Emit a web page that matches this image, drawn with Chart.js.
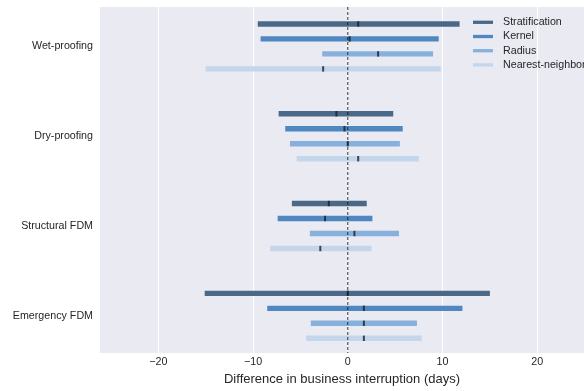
<!DOCTYPE html>
<html><head><meta charset="utf-8">
<script src="https://cdn.jsdelivr.net/npm/chart.js@4.4.0/dist/chart.umd.min.js"></script>
<style>html,body{margin:0;padding:0;background:#fff}</style>
</head><body>
<canvas id="c" width="584" height="391"></canvas>
<script>
const categories = ['Wet-proofing', 'Dry-proofing', 'Structural FDM', 'Emergency FDM'];
const seriesNames = ['Stratification', 'Kernel', 'Radius', 'Nearest-neighbor'];
const seriesColors = ['#4a6988', '#4f87c0', '#88b0dc', '#c4d6ec'];

const stratLow  = [-9.5, -7.3, -5.9, -15.1];
const stratHigh = [11.8, 4.8, 2.0, 15.0];
const stratMid  = [1.1, -1.2, -2.0, 0.0];

const kernelLow  = [-9.2, -6.6, -7.4, -8.5];
const kernelHigh = [9.6, 5.8, 2.6, 12.1];
const kernelMid  = [0.2, -0.35, -2.4, 1.7];

const radiusLow  = [-2.7, -6.1, -4.0, -3.9];
const radiusHigh = [9.0, 5.5, 5.4, 7.3];
const radiusMid  = [3.2, 0.0, 0.7, 1.7];

const nnLow  = [-15.0, -5.4, -8.2, -4.4];
const nnHigh = [9.8, 7.5, 2.5, 7.8];
const nnMid  = [-2.6, 1.1, -2.9, 1.7];

const xTicks = [-20, -10, 0, 10, 20];

const lows = [stratLow, kernelLow, radiusLow, nnLow];
const highs = [stratHigh, kernelHigh, radiusHigh, nnHigh];
const mids = [stratMid, kernelMid, radiusMid, nnMid];

const FONT = '"Liberation Sans", Arial, sans-serif';
const TXT = '#262626';

const datasets = seriesNames.map((name, s) => ({
  label: name,
  data: categories.map((c, i) => ({ y: i, x: [lows[s][i], highs[s][i]] })),
  medians: mids[s],
  backgroundColor: seriesColors[s],
  borderWidth: 0,
  borderSkipped: false,
  categoryPercentage: 0.668,
  barPercentage: 0.36
}));

const bgPlugin = {
  id: 'bg',
  beforeDraw(chart) {
    const { ctx, chartArea: a } = chart;
    ctx.save();
    ctx.fillStyle = '#eaeaf2';
    ctx.fillRect(a.left, a.top, a.right - a.left, a.bottom - a.top);
    ctx.restore();
  }
};

const markPlugin = {
  id: 'marks',
  afterDatasetsDraw(chart) {
    const { ctx, chartArea: a } = chart;
    const xs = chart.scales.x;
    ctx.save();
    chart.data.datasets.forEach((ds, di) => {
      const meta = chart.getDatasetMeta(di);
      meta.data.forEach((bar, j) => {
        const px = xs.getPixelForValue(ds.medians[j]);
        const h = bar.height;
        ctx.fillStyle = 'rgba(25,30,40,0.8)';
        ctx.fillRect(px - 1, bar.y - h / 2, 2, h);
      });
    });
    const zx = xs.getPixelForValue(0);
    ctx.strokeStyle = 'rgba(20,20,20,0.85)';
    ctx.lineWidth = 1;
    ctx.setLineDash([3, 2]);
    ctx.beginPath();
    ctx.moveTo(zx, a.top);
    ctx.lineTo(zx, a.bottom);
    ctx.stroke();
    ctx.restore();
  }
};

const legendPlugin = {
  id: 'vlegend',
  afterDraw(chart) {
    const { ctx } = chart;
    ctx.save();
    ctx.font = '10.7px ' + FONT;
    ctx.textBaseline = 'middle';
    chart.data.datasets.forEach((ds, i) => {
      const y = 22.3 + i * 14.2;
      ctx.strokeStyle = ds.backgroundColor;
      ctx.lineWidth = 3.3;
      ctx.beginPath();
      ctx.moveTo(473, y);
      ctx.lineTo(493, y);
      ctx.stroke();
      ctx.fillStyle = TXT;
      ctx.fillText(ds.label, 503, y);
    });
    ctx.restore();
  }
};

new Chart(document.getElementById('c'), {
  type: 'bar',
  data: { datasets },
  options: {
    indexAxis: 'y',
    responsive: false,
    animation: false,
    devicePixelRatio: 1,
    layout: { padding: { top: 7, left: 0, right: 0, bottom: 0 } },
    plugins: { legend: { display: false }, tooltip: { enabled: false } },
    scales: {
      x: {
        type: 'linear',
        position: 'bottom',
        min: -26.15,
        max: 24.93,
        offset: false,
        afterBuildTicks(axis) { axis.ticks = xTicks.map(v => ({ value: v })); },
        afterFit(axis) { axis.height = 38; axis.paddingLeft = 0; axis.paddingRight = 0; },
        grid: { color: '#ffffff', lineWidth: 1, drawTicks: false, offset: false },
        border: { display: false },
        ticks: {
          padding: 3,
          color: TXT,
          font: { family: FONT, size: 10.7 },
          callback: v => (v < 0 ? '\u2212' + Math.abs(v) : String(v))
        },
        title: {
          display: true,
          text: 'Difference in business interruption (days)',
          color: TXT,
          font: { family: FONT, size: 13 },
          padding: { top: 0, bottom: 4.2 }
        }
      },
      y: {
        type: 'linear',
        reverse: true,
        offset: false,
        min: -0.439,
        max: 3.414,
        afterBuildTicks(axis) { axis.ticks = categories.map((c, i) => ({ value: i })); },
        afterFit(axis) { axis.width = 100; axis.paddingTop = 0; axis.paddingBottom = 0; },
        grid: { display: false, drawTicks: false, offset: false },
        border: { display: false },
        ticks: {
          padding: 7,
          color: TXT,
          font: { family: FONT, size: 10.7 },
          callback: (v) => categories[v]
        }
      }
    }
  },
  plugins: [bgPlugin, markPlugin, legendPlugin]
});
</script>
</body></html>
